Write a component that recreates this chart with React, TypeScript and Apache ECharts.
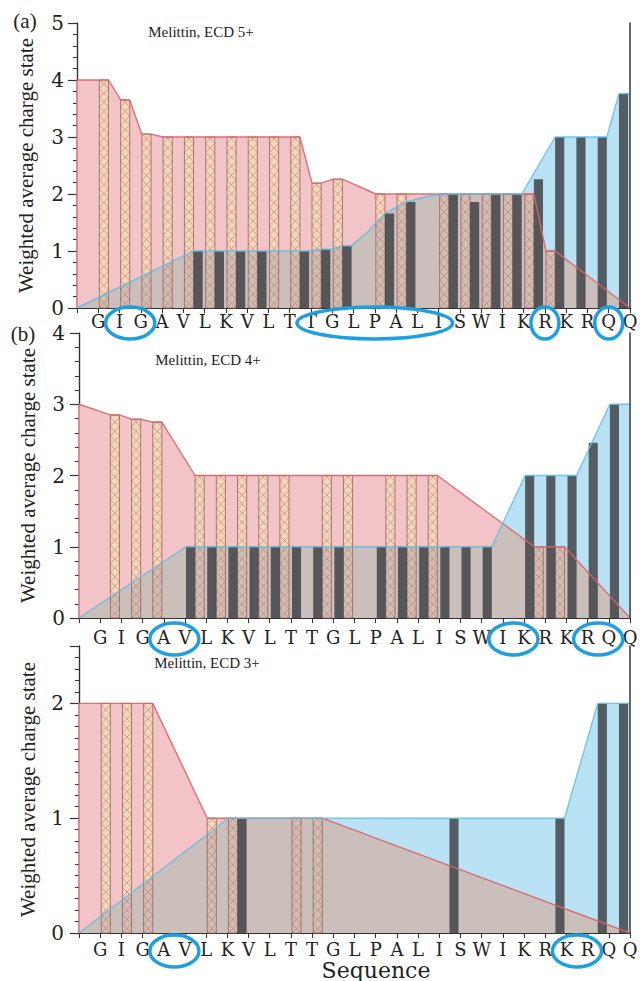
import React, { useEffect, useRef } from 'react';
import * as echarts from 'echarts';

// Melittin residues along the sequence axis (label k sits at tick k).
const SEQUENCE = ['G', 'I', 'G', 'A', 'V', 'L', 'K', 'V', 'L', 'T', 'T', 'G', 'L', 'P', 'A', 'L', 'I', 'S', 'W', 'I', 'K', 'R', 'K', 'R', 'Q', 'Q'];

const PANEL_TITLES = ['Melittin, ECD 5+', 'Melittin, ECD 4+', 'Melittin, ECD 3+'];
const PANEL_TAGS = ['(a)', '(b)', ''];
const Y_MAX = [5, 4, 2.5];
const Y_MINOR_STEP = [0.2, 0.2, 0.1];

// Weighted average charge state per cleavage interval 0..25 (null = no fragment).
// c-ions (hatched) and z-ions (dark).
const C_IONS_5 = [null, 4.0, 3.65, 3.05, 3.0, 3.0, 3.0, 3.0, 3.0, 3.0, 3.0, 2.19, 2.26, null, 2.0, 2.0, null, 2.0, 2.0, 2.0, 2.0, 2.0, 1.0, null, null, null];
const Z_IONS_5 = [null, null, null, null, null, 1.0, 1.0, 1.0, 1.0, null, 1.0, 1.03, 1.09, null, 1.66, 1.86, null, 2.0, 1.86, 2.0, 2.0, 2.26, 3.0, 3.0, 3.0, 3.76];

const C_IONS_4 = [null, 2.85, 2.79, 2.75, null, 2.0, 2.0, 2.0, 2.0, 2.0, null, 2.0, 2.0, null, 2.0, 2.0, 2.0, null, null, null, null, 1.0, 1.0, null, null, null];
const Z_IONS_4 = [null, null, null, null, null, 1.0, 1.0, 1.0, 1.0, 1.0, 1.0, 1.0, 1.0, null, 1.0, 1.0, 1.0, 1.0, 1.0, 1.0, null, 2.0, 2.0, 2.0, 2.46, 3.0];

const C_IONS_3 = [null, 2.0, 2.0, 2.0, null, null, 1.0, 1.0, null, null, 1.0, 1.0, null, null, null, null, null, null, null, null, null, null, null, null, null, null];
const Z_IONS_3 = [null, null, null, null, null, null, null, 1.0, null, null, null, null, null, null, null, null, null, 1.0, null, null, null, null, 1.0, null, 2.0, 2.0];

// Envelope profiles [sequence position, charge] for the c-ion (red) and z-ion (blue) regions.
const C_EDGE_5 = [[0, 4], [1.05, 4], [1.48, 4], [2.05, 3.65], [2.48, 3.65], [3.05, 3.05], [3.48, 3.05], [4.05, 3.0], [10.48, 3.0], [11.05, 2.19], [11.48, 2.19], [12.05, 2.26], [12.48, 2.26], [14.05, 2.0], [21.48, 2.0], [22.05, 1.0], [22.48, 1.0], [26, 0]];
const Z_EDGE_5 = [[0, 0], [5.48, 1.0], [10.91, 1.0], [11.48, 1.03], [11.91, 1.03], [12.48, 1.09], [12.91, 1.09], [13.7, 1.35], [14.48, 1.66], [15.48, 1.86], [16.5, 1.96], [17.48, 2.0], [20.91, 2.0], [22.48, 3.0], [24.91, 3.0], [25.48, 3.76], [26, 3.76]];

const C_EDGE_4 = [[0, 3], [1.48, 2.85], [1.91, 2.85], [2.48, 2.79], [2.91, 2.79], [3.48, 2.75], [3.91, 2.75], [5.48, 2.0], [16.91, 2.0], [21.48, 1.0], [22.91, 1.0], [26, 0]];
const Z_EDGE_4 = [[0, 0], [5.05, 1.0], [19.48, 1.0], [21.05, 2.0], [23.48, 2.0], [25.05, 3.0], [26, 3.0]];

const C_EDGE_3 = [[0, 2], [3.48, 2], [6.05, 1], [11.48, 1], [26, 0]];
const Z_EDGE_3 = [[0, 0], [7.05, 1], [22.91, 1], [24.48, 2], [26, 2]];

// Circled residue ranges [first, last] on each sequence axis.
const HIGHLIGHTS_5 = [[2, 3], [11, 17], [22, 22], [25, 25]];
const HIGHLIGHTS_4 = [[4, 5], [20, 21], [24, 25]];
const HIGHLIGHTS_3 = [[4, 5], [23, 24]];

const PANELS = [
  { c: C_IONS_5, z: Z_IONS_5, cEdge: C_EDGE_5, zEdge: Z_EDGE_5, rings: HIGHLIGHTS_5, cFirst: true },
  { c: C_IONS_4, z: Z_IONS_4, cEdge: C_EDGE_4, zEdge: Z_EDGE_4, rings: HIGHLIGHTS_4, cFirst: false },
  { c: C_IONS_3, z: Z_IONS_3, cEdge: C_EDGE_3, zEdge: Z_EDGE_3, rings: HIGHLIGHTS_3, cFirst: true },
];

// Layout
const GRIDS = [
  { left: 77, top: 23, width: 553, height: 285 },
  { left: 79, top: 333, width: 551, height: 285 },
  { left: 79, top: 646, width: 551, height: 287 },
];
const X_LABEL_MARGIN = [4, 10, 7];
const TITLE_POS = [[201, 32], [208, 360], [207, 663]];
const TAG_POS = [[25, 21], [23, 334], [0, 0]];

// Styles
const TXT = '#222';
const AXIS = '#333';
const PINK = '#f2c3c7';
const SKY = '#b9e3f5';
const OVERLAP = '#ceb9b1';
const PEACH = '#f7d5bb';
const HATCH_EDGE = 'rgba(150,95,85,0.85)';
const HATCH_LINE = 'rgba(155,100,90,0.6)';
const DARK = '#3c3e42';
const RED_LINE = '#d9646a';
const BLUE_LINE = '#5cbde6';
const RING = '#1f9fe3';
const SERIF = 'Liberation Serif';
const WIDE_SERIF = 'DejaVu Serif';

const SLOT_W = 0.43;
const SLOT_START = [0.05, 0.48];

function interp(pts: number[][], x: number): number {
  if (x <= pts[0][0]) return pts[0][1];
  for (let i = 0; i < pts.length - 1; i++) {
    const [x0, y0] = pts[i];
    const [x1, y1] = pts[i + 1];
    if (x >= x0 && x <= x1) return x1 === x0 ? y1 : y0 + ((y1 - y0) * (x - x0)) / (x1 - x0);
  }
  return pts[pts.length - 1][1];
}

// Region covered by both the c-ion and z-ion envelopes.
function lowerEnvelope(a: number[][], b: number[][]): number[][] {
  const xs = Array.from(new Set([...a.map((p) => p[0]), ...b.map((p) => p[0])])).sort((m, n) => m - n);
  const out: number[][] = [];
  for (let i = 0; i < xs.length; i++) {
    const x = xs[i];
    const ya = interp(a, x);
    const yb = interp(b, x);
    out.push([x, Math.min(ya, yb)]);
    if (i < xs.length - 1) {
      const x2 = xs[i + 1];
      const d1 = ya - yb;
      const d2 = interp(a, x2) - interp(b, x2);
      if (d1 * d2 < 0) {
        const xc = x + ((x2 - x) * d1) / (d1 - d2);
        out.push([xc, interp(a, xc)]);
      }
    }
  }
  return out;
}

function zigzag(x: number, top: number, w: number, bottom: number, startRight: boolean): number[][] {
  const pts: number[][] = [];
  const step = w;
  let y = bottom;
  let right = startRight;
  pts.push([right ? x + w : x, y]);
  while (y - step > top) {
    y -= step;
    right = !right;
    pts.push([right ? x + w : x, y]);
  }
  if (y > top) {
    const t = (y - top) / step;
    const xa = right ? x + w : x;
    const xb = right ? x : x + w;
    pts.push([xa + (xb - xa) * t, top]);
  }
  return pts;
}

// mode: 'dark' solid z-ion bar, 'fill' c-ion body, 'hatch' c-ion cross-hatch and outline
function barSeries(p: number, values: (number | null)[], slot: number, mode: 'dark' | 'fill' | 'hatch', z: number) {
  const data = values.map((v, k) => (v == null ? null : [k, v])).filter((d) => d !== null);
  return {
    type: 'custom',
    xAxisIndex: p,
    yAxisIndex: p * 3 + 1,
    z,
    silent: true,
    data,
    renderItem: (_params: any, api: any) => {
      const k = api.value(0);
      const v = api.value(1);
      const x0 = k + SLOT_START[slot];
      const tl = api.coord([x0, v]);
      const br = api.coord([x0 + SLOT_W, 0]);
      const x = tl[0];
      const y = tl[1];
      const w = br[0] - tl[0];
      const h = br[1] - tl[1];
      if (mode === 'dark') {
        return { type: 'rect', shape: { x, y, width: w, height: h }, style: { fill: DARK, opacity: 0.82 } };
      }
      if (mode === 'fill') {
        return { type: 'rect', shape: { x, y, width: w, height: h }, style: { fill: PEACH } };
      }
      return {
        type: 'group',
        children: [
          { type: 'polyline', shape: { points: zigzag(x, y, w, y + h, false) }, style: { stroke: HATCH_LINE, lineWidth: 0.8, fill: null } },
          { type: 'polyline', shape: { points: zigzag(x, y, w, y + h, true) }, style: { stroke: HATCH_LINE, lineWidth: 0.8, fill: null } },
          { type: 'rect', shape: { x, y, width: w, height: h }, style: { fill: 'none', stroke: HATCH_EDGE, lineWidth: 0.9 } },
        ],
      };
    },
  };
}

function buildOption() {
  const grid = GRIDS.map((g) => ({ ...g, containLabel: false }));
  const xAxis = GRIDS.map((_, p) => ({
    type: 'value',
    gridIndex: p,
    min: 0,
    max: 26,
    interval: 1,
    axisLine: { show: true, onZero: false, lineStyle: { color: AXIS, width: 1.2 } },
    axisTick: { show: true, length: 5, lineStyle: { color: AXIS } },
    axisLabel: {
      margin: X_LABEL_MARGIN[p],
      color: TXT,
      fontFamily: WIDE_SERIF,
      fontSize: 18,
      formatter: (v: number) => SEQUENCE[Math.round(v) - 1] ?? '',
    },
    splitLine: { show: false },
  }));
  const yAxis: any[] = [];
  GRIDS.forEach((_, p) => {
    yAxis.push({
      type: 'value',
      gridIndex: p,
      min: 0,
      max: Y_MAX[p],
      interval: Y_MINOR_STEP[p],
      position: 'left',
      axisLine: { show: true, lineStyle: { color: AXIS, width: 1.2 } },
      axisTick: { show: true, length: 4, lineStyle: { color: AXIS } },
      axisLabel: { show: false },
      splitLine: { show: false },
    });
    yAxis.push({
      type: 'value',
      gridIndex: p,
      min: 0,
      max: Y_MAX[p],
      interval: 1,
      position: 'left',
      axisLine: { show: true, lineStyle: { color: AXIS, width: 1.2 } },
      axisTick: { show: true, length: 9, lineStyle: { color: AXIS, width: 1.2 } },
      axisLabel: {
        margin: 13 + p,
        color: TXT,
        fontFamily: WIDE_SERIF,
        fontSize: 20,
        formatter: (v: number) => (Number.isInteger(v) ? String(v) : ''),
      },
      splitLine: { show: false },
      name: 'Weighted average charge state',
      nameLocation: 'middle',
      nameRotate: 90,
      nameGap: 41,
      nameTextStyle: { color: TXT, fontFamily: SERIF, fontSize: 21 },
    });
    yAxis.push({
      type: 'value',
      gridIndex: p,
      min: 0,
      max: Y_MAX[p],
      position: 'right',
      z: 10,
      axisLine: { show: true, lineStyle: { color: '#444', width: 1.6 } },
      axisTick: { show: false },
      axisLabel: { show: false },
      splitLine: { show: false },
    });
  });

  const series: any[] = [];
  PANELS.forEach((panel, p) => {
    const yi = p * 3 + 1;
    const cSlot = panel.cFirst ? 0 : 1;
    const zSlot = panel.cFirst ? 1 : 0;
    const redPath = [[0, 0], ...panel.cEdge];
    const bluePath = [...panel.zEdge, [26, 0]];
    series.push({
      type: 'line', xAxisIndex: p, yAxisIndex: yi, z: 1, symbol: 'none', silent: true,
      data: redPath, lineStyle: { width: 0, opacity: 0 }, areaStyle: { color: PINK, opacity: 1 },
    });
    series.push({
      type: 'line', xAxisIndex: p, yAxisIndex: yi, z: 2, symbol: 'none', silent: true,
      data: bluePath, lineStyle: { width: 0, opacity: 0 }, areaStyle: { color: SKY, opacity: 1 },
    });
    series.push(barSeries(p, panel.c, cSlot, 'fill', 3));
    series.push({
      type: 'line', xAxisIndex: p, yAxisIndex: yi, z: 4, symbol: 'none', silent: true,
      data: lowerEnvelope(panel.cEdge, panel.zEdge), lineStyle: { width: 0, opacity: 0 },
      areaStyle: { color: OVERLAP, opacity: 0.85 },
    });
    series.push(barSeries(p, panel.c, cSlot, 'hatch', 5));
    series.push(barSeries(p, panel.z, zSlot, 'dark', 5));
    series.push({
      type: 'line', xAxisIndex: p, yAxisIndex: yi, z: 6, symbol: 'none', silent: true,
      data: redPath, lineStyle: { color: RED_LINE, width: 1.4, opacity: 0.9 },
    });
    series.push({
      type: 'line', xAxisIndex: p, yAxisIndex: yi, z: 6, symbol: 'none', silent: true,
      data: panel.zEdge, lineStyle: { color: BLUE_LINE, width: 1.4, opacity: 0.85 },
    });
  });

  return { animation: false, backgroundColor: '#fff', grid, xAxis, yAxis, series };
}

export default function App() {
  const ref = useRef<HTMLDivElement>(null);
  useEffect(() => {
    document.body.style.margin = '0';
    const chart = echarts.init(ref.current as HTMLDivElement, null, { renderer: 'svg' });
    chart.setOption(buildOption());

    const elements: any[] = [];
    PANEL_TITLES.forEach((t, p) => {
      elements.push({
        type: 'text', x: TITLE_POS[p][0], y: TITLE_POS[p][1], z: 50,
        style: { text: t, fill: TXT, fontFamily: SERIF, fontSize: 15, align: 'center', verticalAlign: 'middle' },
      });
      if (PANEL_TAGS[p]) {
        elements.push({
          type: 'text', x: TAG_POS[p][0], y: TAG_POS[p][1], z: 50,
          style: { text: PANEL_TAGS[p], fill: TXT, fontFamily: SERIF, fontSize: 21, align: 'center', verticalAlign: 'middle' },
        });
      }
    });
    elements.push({
      type: 'text', x: 376, y: 970, z: 50,
      style: { text: 'Sequence', fill: TXT, fontFamily: WIDE_SERIF, fontSize: 22, align: 'center', verticalAlign: 'middle' },
    });

    PANELS.forEach((panel, p) => {
      const baseY = chart.convertToPixel({ yAxisIndex: p * 3 + 1 }, 0) as number;
      panel.rings.forEach(([a, b]) => {
        const xa = chart.convertToPixel({ xAxisIndex: p }, a) as number;
        const xb = chart.convertToPixel({ xAxisIndex: p }, b) as number;
        elements.push({
          type: 'ellipse', z: 60,
          shape: { cx: (xa + xb) / 2, cy: baseY + X_LABEL_MARGIN[p] + 11, rx: (xb - xa) / 2 + 14, ry: 16 },
          style: { fill: 'none', stroke: RING, lineWidth: 3.5 },
        });
      });
    });
    chart.setOption({ graphic: { elements } });

    return () => chart.dispose();
  }, []);
  return <div ref={ref} style={{ width: 643, height: 981 }} />;
}
